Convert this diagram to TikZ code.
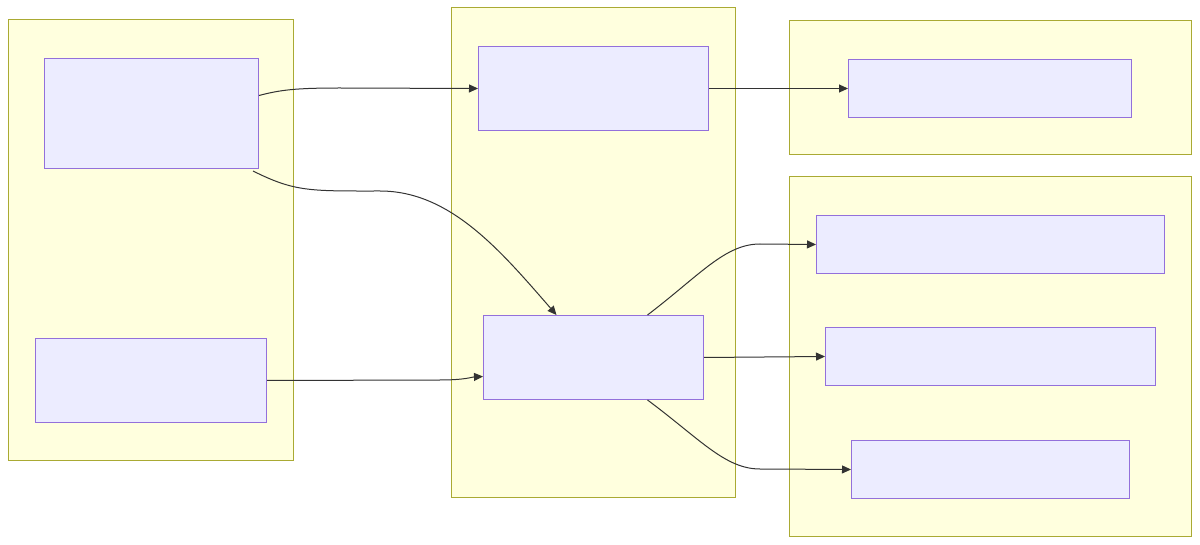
\documentclass[tikz,border=0pt]{standalone}
\usetikzlibrary{arrows.meta}
\definecolor{clfill}{HTML}{FFFFDE}
\definecolor{cldraw}{HTML}{AAAA33}
\definecolor{ndfill}{HTML}{ECECFF}
\definecolor{nddraw}{HTML}{9370DB}
\definecolor{edge}{HTML}{333333}
\tikzset{
  cluster/.style={fill=clfill,draw=cldraw,line width=1pt},
  box/.style={fill=ndfill,draw=nddraw,line width=1pt,inner sep=0pt,anchor=north west},
  conn/.style={draw=edge,line width=1pt,-{Triangle[length=9pt,width=8pt]}}
}
\begin{document}
\begin{tikzpicture}[x=1pt,y=-1pt]
\useasboundingbox (0,0) rectangle (1200,545);
% clusters
\draw[cluster] (8,20) rectangle (293,460);
\draw[cluster] (451,8) rectangle (735,497);
\draw[cluster] (789,21) rectangle (1191,155);
\draw[cluster] (789,177) rectangle (1191,536);
% nodes
\node[box,minimum width=214pt,minimum height=110pt] (A) at (44,58) {};
\node[box,minimum width=231pt,minimum height=84pt] (B) at (35,338) {};
\node[box,minimum width=230pt,minimum height=84pt] (C) at (478,46) {};
\node[box,minimum width=220pt,minimum height=84pt] (D) at (483,315) {};
\node[box,minimum width=283pt,minimum height=58pt] (E) at (848,59) {};
\node[box,minimum width=348pt,minimum height=58pt] (F) at (816,215) {};
\node[box,minimum width=330pt,minimum height=58pt] (G) at (825,327) {};
\node[box,minimum width=278pt,minimum height=58pt] (H) at (851,440) {};
% edges
\draw[conn] ([yshift=18pt]A.east) .. controls (280,90) and (295,88) .. (340,88) -- (C.west);
\draw[conn] ([xshift=-6pt,yshift=-2pt]A.south east) .. controls (295,192) and (310,191) .. (380,191) .. controls (450,191) and (500,250) .. ([xshift=-37pt]D.north);
\draw[conn] (B.east) -- (440,380) .. controls (465,380) and (472,377) .. ([yshift=-19pt]D.west);
\draw[conn] (C.east) -- (E.west);
\draw[conn] ([xshift=54pt]D.north) .. controls (700,275) and (725,244) .. (760,244) -- (F.west);
\draw[conn] (D.east) -- (G.west);
\draw[conn] ([xshift=54pt]D.south) .. controls (700,439) and (725,469) .. (760,469) -- (H.west);
\end{tikzpicture}
\end{document}
